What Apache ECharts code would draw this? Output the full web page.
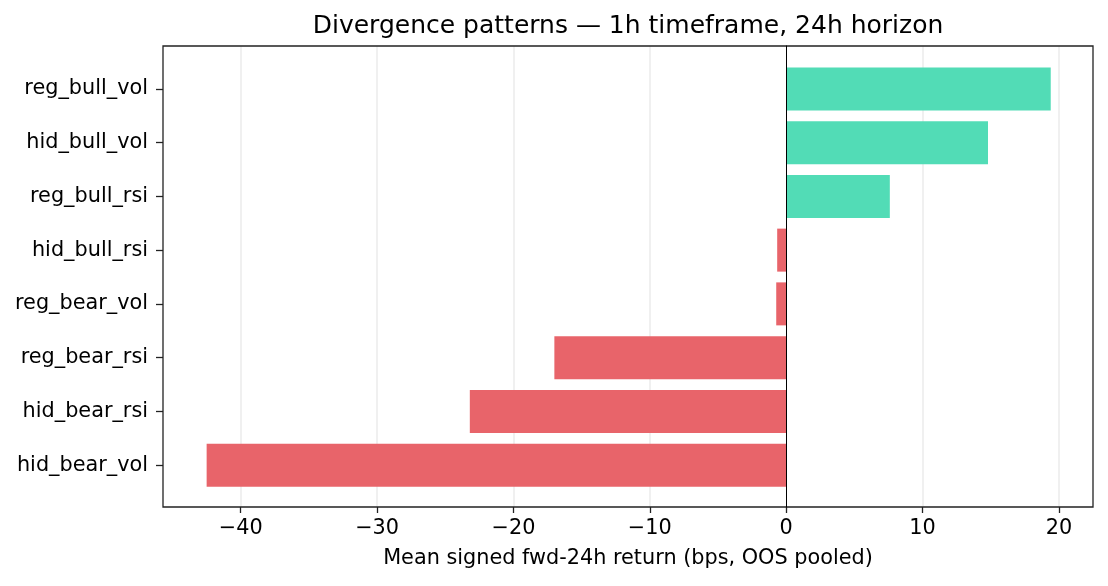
<!DOCTYPE html>
<html><head><meta charset="utf-8">
<script src="https://cdn.jsdelivr.net/npm/echarts@6/dist/echarts.min.js"></script>
<style>html,body{margin:0;padding:0;background:#fff}#c{width:1108px;height:586px}</style>
</head><body><div id="c"></div>
<script>
const categories = ['reg_bull_vol','hid_bull_vol','reg_bull_rsi','hid_bull_rsi','reg_bear_vol','reg_bear_rsi','hid_bear_rsi','hid_bear_vol'];
const values = [19.4, 14.8, 7.6, -0.66, -0.73, -17.0, -23.2, -42.5];
const xTicks = [-40, -30, -20, -10, 0, 10, 20];
const xMin = -45.7, xMax = 22.5;
const titleText = 'Divergence patterns \u2014 1h timeframe, 24h horizon';
const xName = 'Mean signed fwd-24h return (bps, OOS pooled)';

const FONT = 'DejaVu Sans';
const GREEN = '#52dcb6', RED = '#e8646a';
const chart = echarts.init(document.getElementById('c'), null, {renderer:'canvas'});
const fmt = v => String(v).replace('-', '\u2212');
chart.setOption({
  animation: false,
  backgroundColor: '#fff',
  title: {text: titleText, left: 623, top: 9, textAlign: 'center',
    textStyle: {fontFamily: FONT, fontSize: 25, fontWeight: 'normal', color: '#000'}},
  grid: [
    {left: 163, right: 15, top: 46, bottom: 79, show: true, borderColor: '#222', borderWidth: 1.3, backgroundColor: 'transparent', z: 5},
    {left: 163, right: 15, top: 62, bottom: 94}
  ],
  xAxis: [
    {type: 'value', gridIndex: 0, min: xMin, max: xMax,
      name: xName, nameLocation: 'middle', nameGap: 41,
      nameTextStyle: {fontFamily: FONT, fontSize: 20.8, color: '#000'},
      axisLine: {show: false},
      axisTick: {show: true, customValues: xTicks, length: 6, lineStyle: {color: '#222', width: 1.3}},
      axisLabel: {show: true, customValues: xTicks, formatter: fmt, margin: 11,
        fontFamily: FONT, fontSize: 20.8, color: '#000'},
      splitLine: {show: false}},
    {type: 'value', gridIndex: 1, min: xMin, max: xMax, show: false}
  ],
  yAxis: [
    {type: 'value', gridIndex: 0, min: 0, max: 1,
      axisLine: {show: true, onZero: true, lineStyle: {color: '#000', width: 1}},
      axisTick: {show: false}, axisLabel: {show: false}, splitLine: {show: false}, z: 6},
    {type: 'category', gridIndex: 1, data: categories, inverse: true,
      axisLine: {show: false, onZero: false},
      axisTick: {show: true, alignWithLabel: true, length: 7, lineStyle: {color: '#222', width: 1.3}},
      axisLabel: {fontFamily: FONT, fontSize: 20.8, color: '#000', margin: 15, padding: [7, 0, 0, 0]},
      splitLine: {show: false}}
  ],
  series: [
    {type: 'line', xAxisIndex: 0, yAxisIndex: 0, data: [[0, 0]], showSymbol: false, symbolSize: 0,
      lineStyle: {width: 0}, silent: true, z: 0, zlevel: 0,
      markLine: {silent: true, z: 0, symbol: ['none', 'none'], label: {show: false},
        lineStyle: {color: '#ebebeb', width: 1.5, type: 'solid'},
        data: xTicks.filter(t => t !== 0).map(t => ({xAxis: t}))}},
    {type: 'bar', xAxisIndex: 1, yAxisIndex: 1, barWidth: '80%', z: 3,
      data: values.map(v => ({value: v, itemStyle: {color: v >= 0 ? GREEN : RED}}))}
  ]
});
</script></body></html>
